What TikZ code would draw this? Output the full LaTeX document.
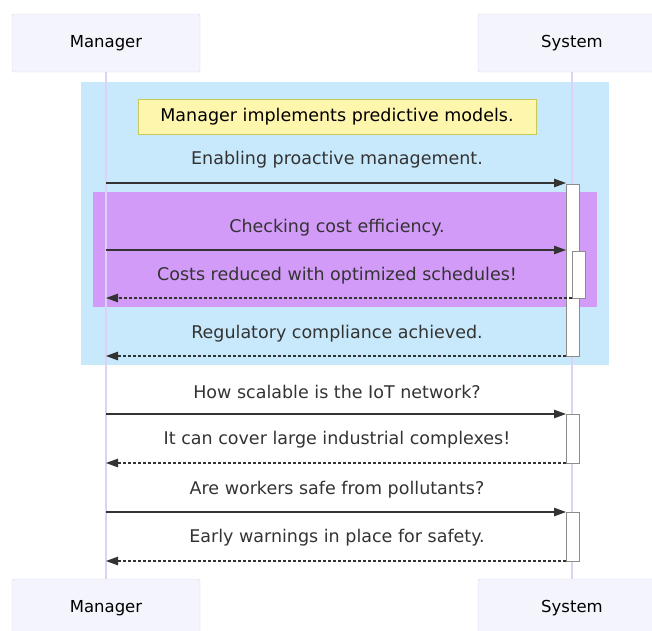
\documentclass[tikz,border=0pt]{standalone}
\usepackage{fontspec}
\setmainfont{DejaVu Sans}
\usepackage{tikz}
\usetikzlibrary{arrows.meta, positioning}

\definecolor{actorfill}{HTML}{F4F4FD}
\definecolor{actorline}{HTML}{DCD6F4}
\definecolor{lifeline}{HTML}{DCD2F7}
\definecolor{loopblue}{HTML}{C8E9FB}
\definecolor{looppurple}{HTML}{D39BF8}
\definecolor{notefill}{HTML}{FFF6AE}
\definecolor{noteline}{HTML}{C9C957}
\definecolor{msgtext}{HTML}{333333}

\begin{document}
\begin{tikzpicture}[
  x=1pt, y={(0pt,-1pt)},
  actor/.style={draw=actorline, fill=actorfill, rounded corners=2pt, minimum width=188pt, minimum height=58pt, font=\fontsize{16.5}{18}\selectfont, text=black},
  note/.style={draw=noteline, fill=notefill, minimum width=398pt, minimum height=35pt, font=\fontsize{17.5}{20}\selectfont, text=black},
  msg/.style={font=\fontsize{17.5}{20}\selectfont, text=msgtext},
  call/.style={-{Triangle[length=12pt, width=8.5pt]}, draw=msgtext, line width=1.1pt},
  reply/.style={call, dashed, dash pattern=on 3pt off 2pt},
  act/.style={draw=gray!90, fill=white, line width=1pt}
]
  \useasboundingbox (0,0) rectangle (652,630);

  % participants, top and bottom
  \node[actor] (mgrtop) at (106,43) {Manager};
  \node[actor] (systop) at (572,43) {System};
  \node[actor] (mgrbot) at (106,608) {Manager};
  \node[actor] (sysbot) at (572,608) {System};

  % group backgrounds
  \fill[loopblue] (81,82) rectangle (609,365);
  \fill[looppurple] (93,192) rectangle (597,307);

  % lifelines
  \draw[lifeline, line width=1.2pt] (mgrtop.south) -- (mgrbot.north);
  \draw[lifeline, line width=1.2pt] (systop.south) -- (sysbot.north);

  % activation bars
  \draw[act] (566,184) rectangle (579,356);
  \draw[act] (572,251) rectangle (585,298);
  \draw[act] (566,414) rectangle (579,463);
  \draw[act] (566,512) rectangle (579,561);

  \node[note] (plan) at (337,117) {Manager implements predictive models.};

  % message end points
  \coordinate (m1) at (106,183);  \coordinate (s1) at (566,183);
  \coordinate (m2) at (106,250);  \coordinate (s2) at (566,250);
  \coordinate (m3) at (106,298);  \coordinate (s3) at (572,298);
  \coordinate (m4) at (106,356);  \coordinate (s4) at (566,356);
  \coordinate (m5) at (106,414);  \coordinate (s5) at (566,414);
  \coordinate (m6) at (106,463);  \coordinate (s6) at (566,463);
  \coordinate (m7) at (106,512);  \coordinate (s7) at (566,512);
  \coordinate (m8) at (106,561);  \coordinate (s8) at (566,561);

  \draw[call] (m1) -- (s1);
  \node[msg] at (337,160) {Enabling proactive management.};
  \draw[call] (m2) -- (s2);
  \node[msg] at (337,228) {Checking cost efficiency.};
  \draw[reply] (s3) -- (m3);
  \node[msg] at (337,276) {Costs reduced with optimized schedules!};
  \draw[reply] (s4) -- (m4);
  \node[msg] at (337,334) {Regulatory compliance achieved.};
  \draw[call] (m5) -- (s5);
  \node[msg] at (337,392) {How scalable is the IoT network?};
  \draw[reply] (s6) -- (m6);
  \node[msg] at (337,440) {It can cover large industrial complexes!};
  \draw[call] (m7) -- (s7);
  \node[msg] at (337,490) {Are workers safe from pollutants?};
  \draw[reply] (s8) -- (m8);
  \node[msg] at (337,538) {Early warnings in place for safety.};
\end{tikzpicture}
\end{document}
